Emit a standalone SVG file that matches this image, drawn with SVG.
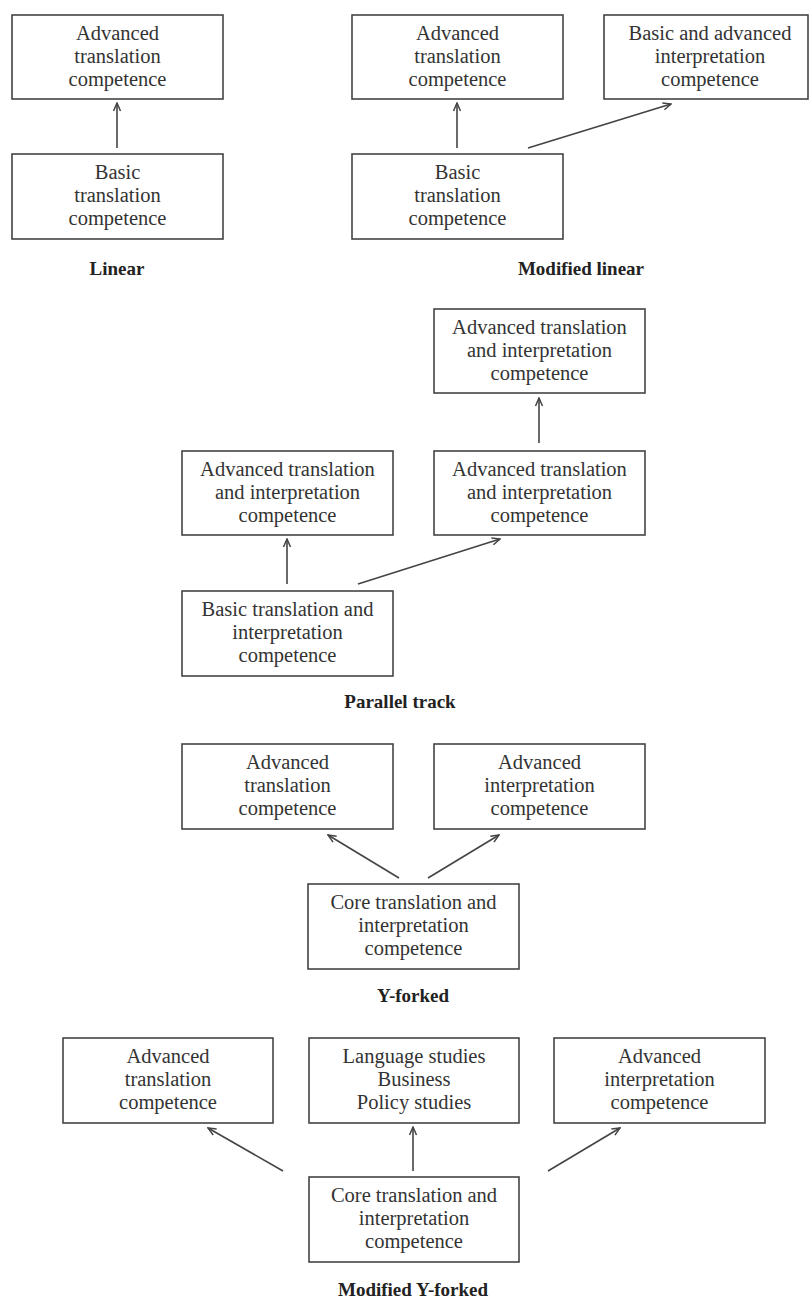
<svg xmlns="http://www.w3.org/2000/svg" width="809" height="1301" viewBox="0 0 809 1301">
<defs>
<style>
.box{fill:#fff;stroke:#444;stroke-width:1.6}
.t{font-family:"Liberation Serif","Times New Roman",serif;font-size:20.5px;fill:#333;text-anchor:middle}
.lab{font-family:"Liberation Serif","Times New Roman",serif;font-size:19px;font-weight:bold;fill:#222;text-anchor:middle}
.c{stroke:#444;stroke-width:1.6;fill:none;marker-end:url(#ah)}
</style>
<marker id="ah" viewBox="0 0 10 10" refX="9" refY="5" markerWidth="10" markerHeight="10" markerUnits="userSpaceOnUse" orient="auto">
<path d="M1,1.5 L9,5 L1,8.5" fill="none" stroke="#444" stroke-width="1.5"/>
</marker>
</defs>
<rect width="809" height="1301" fill="#fff"/>

<g id="connectors">
<line class="c" x1="117" y1="148" x2="117" y2="103"/>
<line class="c" x1="457" y1="148" x2="457" y2="103"/>
<line class="c" x1="528" y1="148" x2="671" y2="104"/>
<line class="c" x1="539" y1="443" x2="539" y2="398"/>
<line class="c" x1="287" y1="584" x2="287" y2="539"/>
<line class="c" x1="358" y1="584" x2="500" y2="539"/>
<line class="c" x1="399" y1="878" x2="328" y2="835"/>
<line class="c" x1="428" y1="878" x2="499" y2="835"/>
<line class="c" x1="283" y1="1171" x2="208" y2="1128"/>
<line class="c" x1="413" y1="1171" x2="413" y2="1127"/>
<line class="c" x1="548" y1="1171" x2="620" y2="1128"/>
</g>

<g id="linear-advanced"><rect class="box" x="12" y="15" width="211" height="84"/>
<text class="t" x="117.5" y="40">Advanced</text><text class="t" x="117.5" y="63">translation</text><text class="t" x="117.5" y="86">competence</text></g>
<g id="linear-basic"><rect class="box" x="12" y="154" width="211" height="85"/>
<text class="t" x="117.5" y="179">Basic</text><text class="t" x="117.5" y="202">translation</text><text class="t" x="117.5" y="225">competence</text></g>
<text class="lab" x="117" y="275">Linear</text>

<g id="mlinear-advanced"><rect class="box" x="352" y="15" width="211" height="84"/>
<text class="t" x="457.5" y="40">Advanced</text><text class="t" x="457.5" y="63">translation</text><text class="t" x="457.5" y="86">competence</text></g>
<g id="mlinear-interp"><rect class="box" x="604" y="15" width="204" height="84"/>
<text class="t" x="710" y="40">Basic and advanced</text><text class="t" x="710" y="63">interpretation</text><text class="t" x="710" y="86">competence</text></g>
<g id="mlinear-basic"><rect class="box" x="352" y="154" width="211" height="85"/>
<text class="t" x="457.5" y="179">Basic</text><text class="t" x="457.5" y="202">translation</text><text class="t" x="457.5" y="225">competence</text></g>
<text class="lab" x="581" y="275">Modified linear</text>

<g id="pt-top"><rect class="box" x="434" y="309" width="211" height="84"/>
<text class="t" x="539.5" y="334">Advanced translation</text><text class="t" x="539.5" y="357">and interpretation</text><text class="t" x="539.5" y="380">competence</text></g>
<g id="pt-left"><rect class="box" x="182" y="451" width="211" height="84"/>
<text class="t" x="287.5" y="476">Advanced translation</text><text class="t" x="287.5" y="499">and interpretation</text><text class="t" x="287.5" y="522">competence</text></g>
<g id="pt-right"><rect class="box" x="434" y="451" width="211" height="84"/>
<text class="t" x="539.5" y="476">Advanced translation</text><text class="t" x="539.5" y="499">and interpretation</text><text class="t" x="539.5" y="522">competence</text></g>
<g id="pt-basic"><rect class="box" x="182" y="591" width="211" height="85"/>
<text class="t" x="287.5" y="616">Basic translation and</text><text class="t" x="287.5" y="639">interpretation</text><text class="t" x="287.5" y="662">competence</text></g>
<text class="lab" x="400" y="708">Parallel track</text>

<g id="y-trans"><rect class="box" x="182" y="744" width="211" height="85"/>
<text class="t" x="287.5" y="769">Advanced</text><text class="t" x="287.5" y="792">translation</text><text class="t" x="287.5" y="815">competence</text></g>
<g id="y-interp"><rect class="box" x="434" y="744" width="211" height="85"/>
<text class="t" x="539.5" y="769">Advanced</text><text class="t" x="539.5" y="792">interpretation</text><text class="t" x="539.5" y="815">competence</text></g>
<g id="y-core"><rect class="box" x="308" y="884" width="211" height="85"/>
<text class="t" x="413.5" y="909">Core translation and</text><text class="t" x="413.5" y="932">interpretation</text><text class="t" x="413.5" y="955">competence</text></g>
<text class="lab" x="413" y="1002">Y-forked</text>

<g id="my-trans"><rect class="box" x="63" y="1038" width="210" height="85"/>
<text class="t" x="168" y="1063">Advanced</text><text class="t" x="168" y="1086">translation</text><text class="t" x="168" y="1109">competence</text></g>
<g id="my-other"><rect class="box" x="309" y="1038" width="210" height="85"/>
<text class="t" x="414" y="1063">Language studies</text><text class="t" x="414" y="1086">Business</text><text class="t" x="414" y="1109">Policy studies</text></g>
<g id="my-interp"><rect class="box" x="554" y="1038" width="211" height="85"/>
<text class="t" x="659.5" y="1063">Advanced</text><text class="t" x="659.5" y="1086">interpretation</text><text class="t" x="659.5" y="1109">competence</text></g>
<g id="my-core"><rect class="box" x="309" y="1177" width="210" height="85"/>
<text class="t" x="414" y="1202">Core translation and</text><text class="t" x="414" y="1225">interpretation</text><text class="t" x="414" y="1248">competence</text></g>
<text class="lab" x="413" y="1296">Modified Y-forked</text>
</svg>
